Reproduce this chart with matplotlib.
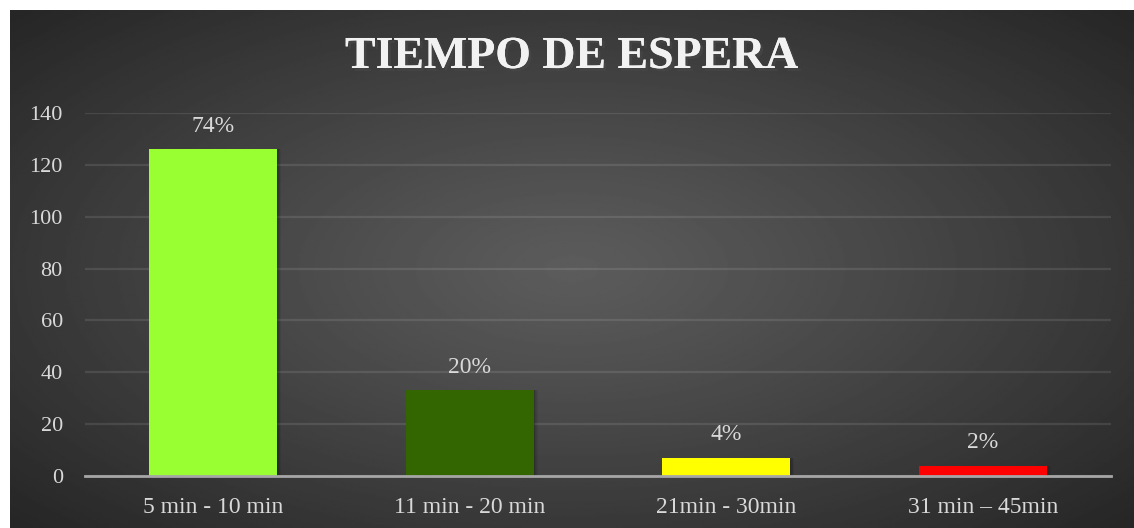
import numpy as np
import matplotlib.pyplot as plt
import matplotlib.patheffects as pe

# datos del grafico
categorias = ['5 min - 10 min', '11 min - 20 min', '21min - 30min', '31 min \u2013 45min']
valores = [126, 33, 7, 4]
porcentajes = ['74%', '20%', '4%', '2%']
colores = ['#99ff33', '#336600', '#ffff00', '#ff0000']

W, H = 1134, 528
fig = plt.figure(figsize=(W / 100, H / 100), dpi=100, facecolor='white')

# fondo con degradado radial
bg = fig.add_axes([10 / W, 0, 1 - 10 / W, 1 - 10 / H])
yy, xx = np.mgrid[-1:1:300j, -1:1:600j]
r = np.sqrt((xx * 0.95) ** 2 + (yy * 0.9) ** 2)
r = np.clip(r, 0, 1.3) / 1.3
light, dark = 0x5c / 255, 0x26 / 255
img = light + (dark - light) * r ** 1.1
bg.imshow(img, cmap='gray', vmin=0, vmax=1, aspect='auto', extent=[0, 1, 0, 1])
bg.axis('off')

plt.rcParams['font.family'] = ['Liberation Serif', 'DejaVu Serif']

ax = fig.add_axes([85 / W, (H - 476) / H, (1111 - 85) / W, (476 - 113) / H])
ax.patch.set_alpha(0)
x = np.arange(len(categorias))

# sombra difusa a la derecha de las barras
for k in range(1, 6):
    ax.bar(x + 0.003 * k, valores, width=0.5, color='black', alpha=0.06, zorder=2)
barras = ax.bar(x, valores, width=0.5, color=colores, zorder=3)

for b, p in zip(barras, porcentajes):
    ax.annotate(p, (b.get_x() + b.get_width() / 2, b.get_height()),
                xytext=(0, 16.5), textcoords='offset points',
                ha='center', va='center', fontsize=17, color='#d9d9d9', zorder=4)

ax.set_xlim(-0.5, len(categorias) - 0.5)
ax.set_ylim(0, 140)
ax.set_yticks(range(0, 141, 20))
ax.set_xticks(x)
ax.set_xticklabels(categorias)
ax.tick_params(axis='both', length=0, colors='#d9d9d9', labelsize=17)
ax.tick_params(axis='x', pad=15)
ax.tick_params(axis='y', pad=16, labelsize=16)
ax.grid(axis='y', color='white', alpha=0.1, linewidth=1.6, zorder=1)
for s in ['top', 'right', 'left']:
    ax.spines[s].set_visible(False)
ax.spines['bottom'].set_color('#a6a6a6')
ax.spines['bottom'].set_linewidth(2)
ax.spines['bottom'].set_zorder(5)

fig.text(0.5 + 5 / W, 1 - 57 / H, 'TIEMPO DE ESPERA',
         ha='center', va='center', fontsize=33, fontweight='bold', color='#f2f2f2',
         path_effects=[pe.withSimplePatchShadow(offset=(2, -2), alpha=0.6), pe.Normal()])

fig.savefig('out.png', dpi=100, facecolor='white')
